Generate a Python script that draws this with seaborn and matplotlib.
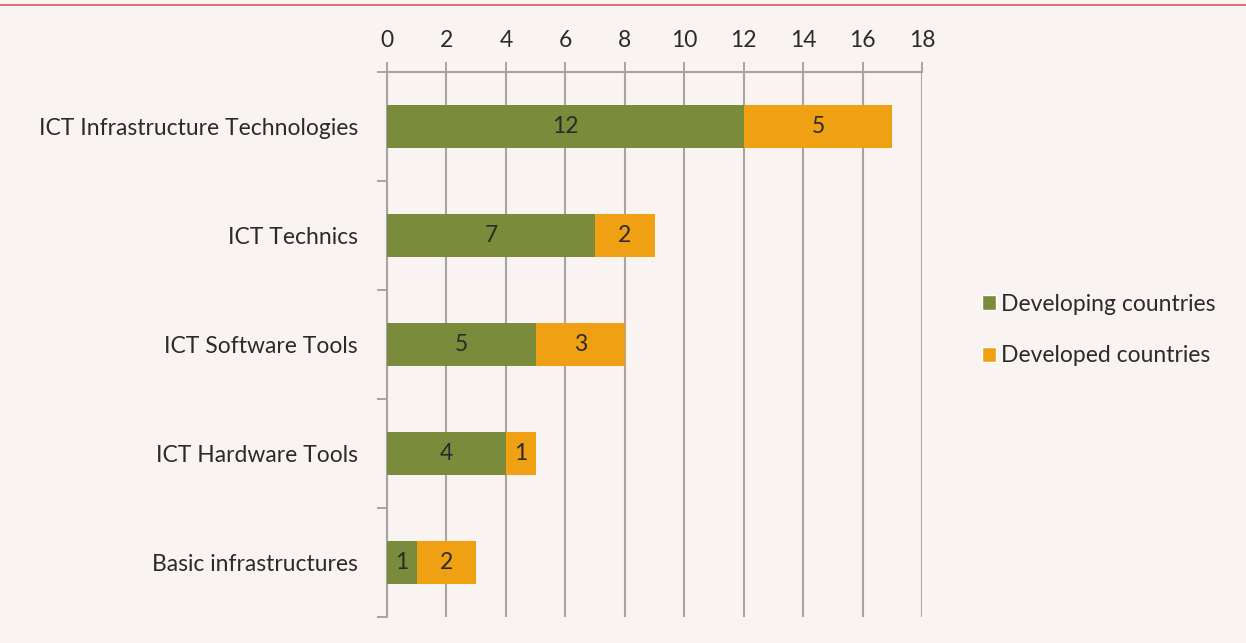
import matplotlib
matplotlib.use('Agg')
import matplotlib.pyplot as plt
import seaborn as sns
import pandas as pd
from matplotlib.lines import Line2D
from matplotlib.patches import Patch
from matplotlib.ticker import FixedLocator

categories = ['ICT Infrastructure Technologies', 'ICT Technics', 'ICT Software Tools',
              'ICT Hardware Tools', 'Basic infrastructures']
developing = [12, 7, 5, 4, 1]
developed = [5, 2, 3, 1, 2]
xticks = list(range(0, 19, 2))

green = '#7a8c3b'
orange = '#efa013'
grid_col = '#a8a4a2'
bg = '#f9f4f1'
txt = '#2b2b2b'
fs = 16.5

sns.set_style('white')
plt.rcParams['font.family'] = ['Lato', 'DejaVu Sans']

df = pd.DataFrame({'category': categories, 'developing': developing, 'developed': developed})
df['total'] = df['developing'] + df['developed']

fig = plt.figure(figsize=(12.46, 6.43), dpi=100, facecolor=bg)
ax = fig.add_axes([387 / 1246, 1 - 617 / 643, 535 / 1246, 545 / 643])
ax.set_facecolor(bg)

sns.barplot(x='total', y='category', data=df, color=orange, width=0.4, ax=ax,
            saturation=1, linewidth=0, zorder=3)
sns.barplot(x='developing', y='category', data=df, color=green, width=0.4, ax=ax,
            saturation=1, linewidth=0, zorder=4)

# labels centred in each segment
tot_bars = ax.containers[0]
dev_bars = ax.containers[1]
for b, v in zip(dev_bars, developing):
    ax.text(b.get_x() + b.get_width() / 2, b.get_y() + b.get_height() / 2, str(v),
            ha='center', va='center', fontsize=fs, color=txt, zorder=5)
for b, d, v in zip(tot_bars, developing, developed):
    ax.text(d + v / 2, b.get_y() + b.get_height() / 2, str(v),
            ha='center', va='center', fontsize=fs, color=txt, zorder=5)

ax.set_xlim(0, 18)
ax.set_ylim(4.5, -0.5)
ax.set_xticks(xticks)
ax.xaxis.tick_top()
ax.xaxis.set_label_position('top')
ax.tick_params(axis='x', which='major', length=7, width=1.4, color=grid_col,
               labelsize=fs, labelcolor=txt, pad=8, top=True, bottom=False)
ax.grid(axis='x', color=grid_col, linewidth=1.5, zorder=1)
ax.set_axisbelow(True)

ax.yaxis.set_minor_locator(FixedLocator([i - 0.5 for i in range(6)]))
ax.tick_params(axis='y', which='major', length=0, labelsize=fs, labelcolor=txt, pad=21)
ax.tick_params(axis='y', which='minor', length=7, width=1.4, color=grid_col, left=True)
ax.set_xlabel('')
ax.set_ylabel('')

for s in ['right', 'bottom']:
    ax.spines[s].set_visible(False)
for s in ['left', 'top']:
    ax.spines[s].set_color(grid_col)
    ax.spines[s].set_linewidth(1.5)

handles = [Patch(facecolor=green, label='Developing countries'),
           Patch(facecolor=orange, label='Developed countries')]
fig.legend(handles=handles, loc='center left', bbox_to_anchor=(982 / 1246, 1 - 330 / 643),
           frameon=False, fontsize=fs, handlelength=0.6, handleheight=0.6,
           handletextpad=0.25, labelspacing=1.35, borderpad=0, borderaxespad=0,
           labelcolor=txt)

fig.add_artist(Line2D([0, 1], [1 - 5 / 643, 1 - 5 / 643], color='#d9555f', linewidth=1.2,
                      transform=fig.transFigure))

fig.savefig('out.png', dpi=100, facecolor=bg)
